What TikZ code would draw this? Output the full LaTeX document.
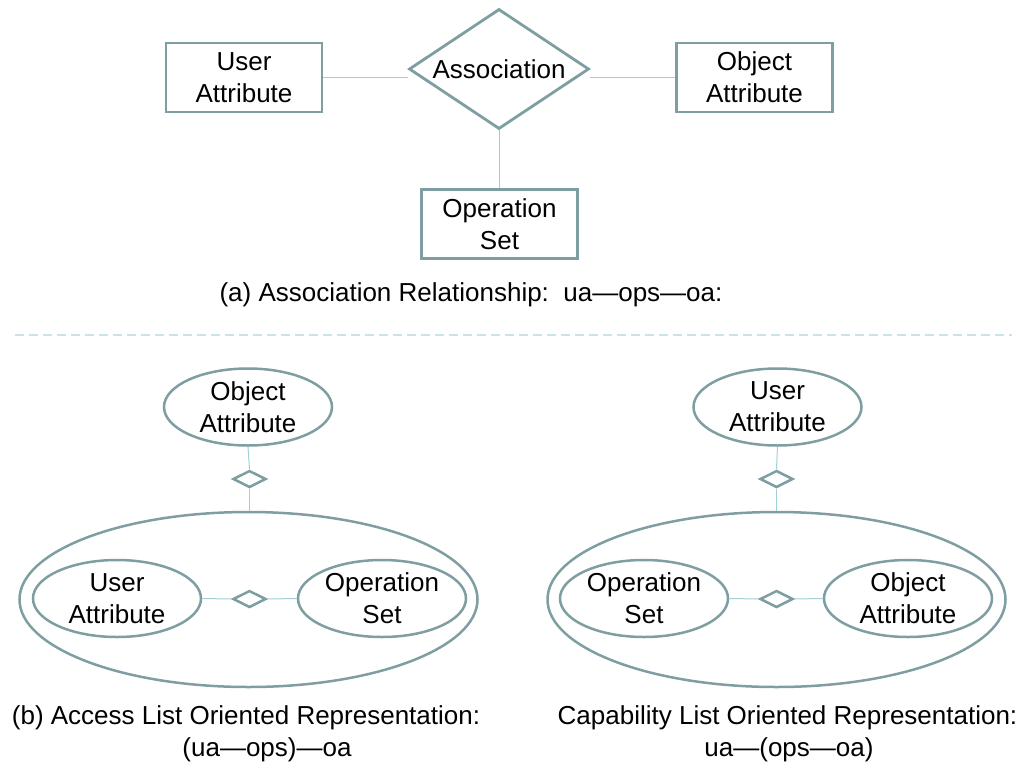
\documentclass[tikz,border=0pt]{standalone}
\usepackage{fontspec}
\setmainfont{Liberation Sans}
\usetikzlibrary{shapes.geometric}
\definecolor{edgec}{RGB}{126,158,161}
\definecolor{linkc}{RGB}{160,208,214}
\definecolor{sepc}{RGB}{200,228,232}
\tikzset{
  every node/.style={font=\fontsize{26}{32}\selectfont, align=center, inner sep=0pt},
  ebox/.style={draw=edgec, line width=2.8pt, rectangle, minimum width=156pt, minimum height=69pt},
  rel/.style={draw=edgec, line width=2.8pt, diamond, aspect=1.5, minimum width=180pt, minimum height=120pt},
  oval/.style={draw=edgec, line width=2.5pt, ellipse, minimum width=168pt, minimum height=77pt},
  outer/.style={draw=edgec, line width=2.5pt, ellipse, minimum width=458pt, minimum height=175pt},
  knot/.style={draw=edgec, line width=2.5pt, diamond, aspect=2, minimum width=33pt, minimum height=17pt},
  wire/.style={draw=linkc, line width=1pt},
  divider/.style={draw=sepc, line width=1.2pt, dash pattern=on 9pt off 5pt}
}
\begin{document}
\begin{tikzpicture}[x=1pt,y=-1pt]
\useasboundingbox (0,0) rectangle (1021,764);

% (a) association relationship
\node[ebox] (ua)    at (244,77.5)  {User\\Attribute};
\node[ebox] (oa)    at (754.5,77.5) {Object\\Attribute};
\node[rel]  (assoc) at (499,69)    {Association};
\node[ebox] (ops)   at (499.5,224) {Operation\\Set};
\draw[wire] (ua.east) -- (ua.east -| assoc.west);
\draw[wire] (oa.west) -- (oa.west -| assoc.east);
\draw[wire] (assoc.south) -- (assoc.south |- ops.north);
\node (capA) at (471,295) {(a) Association Relationship:\ \ ua—ops—oa:};

% separator
\coordinate (sepL) at (15,335);
\coordinate (sepR) at (1012,335);
\draw[divider] (sepL) -- (sepR);

% (b) access list oriented
\node[oval]  (boa)  at (248,407)   {Object\\Attribute};
\node[knot]  (bk1)  at (249.5,479) {};
\node[outer] (bout) at (248.5,599.5) {};
\node[oval]  (bua)  at (117,598.5) {User\\Attribute};
\node[oval]  (bops) at (382,598.5) {Operation\\Set};
\node[knot]  (bk2)  at (249.5,599) {};
\draw[wire] (boa.south) -- (bk1.north);
\draw[wire] (bk1.south) -- (bk1.south |- bout.north);
\draw[wire] (bua.east) -- (bk2.west);
\draw[wire] (bk2.east) -- (bops.west);
\node (capB1) at (246,718) {(b) Access List Oriented Representation:};
\node (capB2) at (267,750) {(ua—ops)—oa};

% capability list oriented
\node[oval]  (cua)  at (777.5,407)  {User\\Attribute};
\node[knot]  (ck1)  at (776.5,479)  {};
\node[outer] (cout) at (776.5,599.5) {};
\node[oval]  (cops) at (644,598.5)  {Operation\\Set};
\node[oval]  (coa)  at (908,598.5)  {Object\\Attribute};
\node[knot]  (ck2)  at (776.5,599)  {};
\draw[wire] (cua.south) -- (ck1.north);
\draw[wire] (ck1.south) -- (ck1.south |- cout.north);
\draw[wire] (cops.east) -- (ck2.west);
\draw[wire] (ck2.east) -- (coa.west);
\node (capC1) at (787.5,718) {Capability List Oriented Representation:};
\node (capC2) at (789,750) {ua—(ops—oa)};
\end{tikzpicture}
\end{document}
